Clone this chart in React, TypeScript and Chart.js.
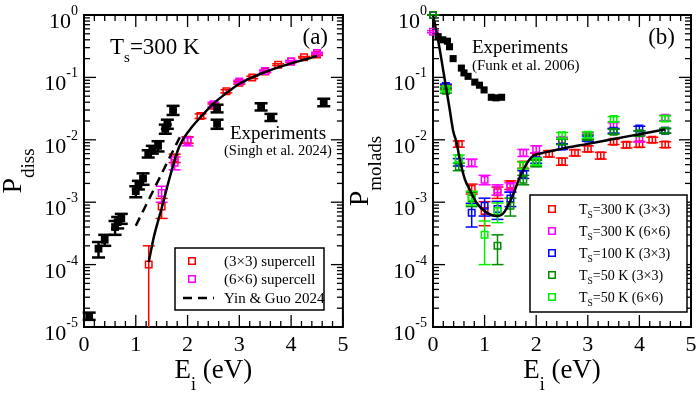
import React, { useEffect, useRef } from 'react';
import { Chart, registerables } from 'chart.js';
Chart.register(...registerables);

const FONT = '"Liberation Serif", "Times New Roman", Times, serif';

// ---------------- Panel (a): dissociation probability ----------------
const dissExpE = [0.10, 0.28, 0.40, 0.60, 0.65, 0.72, 1.00, 1.05, 1.14, 1.24, 1.32, 1.43, 1.57, 1.61, 1.72, 2.57, 2.57, 3.42, 3.61, 4.63];
const dissExpP = [1.5e-5, 1.8e-4, 2.5e-4, 4.0e-4, 4.8e-4, 5.5e-4, 1.5e-3, 1.9e-3, 2.4e-3, 6.0e-3, 7.0e-3, 8.0e-3, 1.5e-2, 1.8e-2, 3.0e-2, 3.2e-2, 1.8e-2, 3.4e-2, 2.3e-2, 4.0e-2];
const dissExpErr = [2e-6, 5e-5, 5e-5, 1e-4, 1e-4, 1e-4, 3e-4, 3e-4, 5e-4, 8e-4, 1e-3, 1.5e-3, 2.5e-3, 3e-3, 5e-3, 4.5e-3, 3e-3, 4.5e-3, 3e-3, 5.5e-3];

const diss3x3E = [1.25, 1.5, 1.75, 2.0, 2.25, 2.5, 2.75, 3.0, 3.25, 3.5, 3.75, 4.0, 4.25, 4.5];
const diss3x3P = [1.0e-4, 8.5e-4, 5.1e-3, 1.0e-2, 2.4e-2, 3.5e-2, 6.0e-2, 8.2e-2, 1.0e-1, 1.24e-1, 1.6e-1, 1.8e-1, 2.1e-1, 2.32e-1];
const diss3x3Err = [1.0e-4, 3.0e-4, 8e-4, 1.2e-3, 2.0e-3, 2.5e-3, 3.5e-3, 4e-3, 4.5e-3, 5e-3, 5.5e-3, 6e-3, 6e-3, 6.5e-3];

const diss6x6E = [1.5, 1.75, 2.0, 2.5, 3.0, 3.5, 4.0, 4.5];
const diss6x6P = [1.4e-3, 4.3e-3, 9.5e-3, 3.7e-2, 8.6e-2, 1.27e-1, 1.8e-1, 2.45e-1];
const diss6x6Err = [4e-4, 1e-3, 1.5e-3, 3e-3, 4e-3, 5e-3, 6e-3, 7e-3];

const dissFitE = [1.25, 1.35, 1.5, 1.65, 1.84, 2.04, 2.25, 2.5, 2.75, 3.0, 3.25, 3.5, 3.75, 4.0, 4.25, 4.5];
const dissFitP = [1.1e-4, 2.8e-4, 8.0e-4, 2.4e-3, 7.8e-3, 1.44e-2, 2.3e-2, 3.8e-2, 5.6e-2, 7.9e-2, 1.0e-1, 1.22e-1, 1.45e-1, 1.68e-1, 1.92e-1, 2.2e-1];

const yinGuoE = [1.0, 1.85];
const yinGuoP = [4.2e-4, 1.1e-2];

// ---------------- Panel (b): molecular adsorption probability ----------------
const molExpE = [0.10, 0.19, 0.28, 0.32, 0.39, 0.55, 0.60, 0.68, 0.81, 0.90, 0.99, 1.13, 1.22, 1.33];
const molExpP = [0.45, 0.40, 0.38, 0.31, 0.20, 0.141, 0.118, 0.104, 0.084, 0.075, 0.063, 0.048, 0.047, 0.048];

const mol300s3E = [0, 0.25, 0.5, 0.75, 1.0, 1.25, 1.5, 1.75, 2.0, 2.25, 2.5, 2.75, 3.0, 3.25, 3.5, 3.75, 4.0, 4.25, 4.5];
const mol300s3P = [1.0, 0.07, 8.6e-3, 1.65e-3, 7.2e-4, 1.45e-3, 1.9e-3, 4.0e-3, 5.5e-3, 6.0e-3, 4.5e-3, 6.2e-3, 7.2e-3, 5.6e-3, 9.3e-3, 8.3e-3, 8.5e-3, 1.0e-2, 8.4e-3];
const mol300s3Err = [0.01, 5e-3, 1e-3, 3e-4, 3e-4, 3e-4, 3e-4, 5e-4, 6e-4, 7e-4, 6e-4, 7e-4, 8e-4, 7e-4, 9e-4, 9e-4, 9e-4, 1e-3, 9e-4];

const mol300s6E = [0, 0.75, 1.0, 1.25, 1.5, 1.75, 2.0, 2.5, 3.0, 3.5, 4.0, 4.5];
const mol300s6P = [0.54, 4.3e-3, 2.3e-3, 1.6e-3, 1.75e-3, 6.2e-3, 7.1e-3, 9.8e-3, 1.15e-2, 1.7e-2, 1.05e-2, 2.25e-2];
const mol300s6Err = [0.02, 6e-4, 4e-4, 3e-4, 3e-4, 8e-4, 9e-4, 1.2e-3, 1.4e-3, 1.8e-3, 1.3e-3, 2.2e-3];

const mol100s3E = [0, 0.25, 0.5, 0.75, 1.0, 1.25, 1.5, 1.75, 2.0, 2.5, 3.0, 3.5, 4.0, 4.5];
const mol100s3P = [1.0, 0.073, 4.4e-3, 6.8e-4, 8.8e-4, 7.8e-4, 1.15e-3, 2.8e-3, 4.7e-3, 7.8e-3, 1.05e-2, 1.4e-2, 1.52e-2, 1.4e-2];
const mol100s3Err = [0.01, 5e-3, 6e-4, 2.8e-4, 2.8e-4, 2.5e-4, 3e-4, 4e-4, 5e-4, 8e-4, 1e-3, 1.2e-3, 1.3e-3, 1.2e-3];

const mol50s3E = [0, 0.25, 0.5, 0.75, 1.25, 1.5, 1.75, 2.0, 2.5, 3.0, 3.5, 4.0, 4.5];
const mol50s3P = [1.0, 0.061, 3.7e-3, 1.15e-3, 2.0e-4, 8.8e-4, 2.3e-3, 4.2e-3, 9.3e-3, 1.1e-2, 1.35e-2, 1.27e-2, 1.4e-2];
const mol50s3Err = [0.01, 5e-3, 5e-4, 3e-4, 1e-4, 2.8e-4, 4e-4, 5e-4, 9e-4, 1e-3, 1.2e-3, 1.2e-3, 1.2e-3];

const mol50s6E = [0.25, 0.5, 0.75, 1.0, 1.25, 1.75, 2.0, 2.5, 3.0, 3.5, 4.5];
const mol50s6P = [0.066, 5.0e-3, 1.2e-3, 3.0e-4, 7.2e-4, 3.9e-3, 4.5e-3, 1.18e-2, 1.2e-2, 2.15e-2, 2.2e-2];
const mol50s6Err = [5e-3, 7e-4, 3e-4, 2e-4, 2.5e-4, 5e-4, 6e-4, 1.3e-3, 1.4e-3, 2e-3, 2.2e-3];

const molFitE = [0, 0.1, 0.2, 0.32, 0.39, 0.46, 0.52, 0.62, 0.68, 0.85, 1.04, 1.23, 1.36, 1.53, 1.69, 1.85, 1.95, 2.1, 2.5, 3.0, 3.5, 4.0, 4.5];
const molFitP = [1.0, 0.39, 0.127, 0.032, 0.014, 8.8e-3, 4.8e-3, 2.3e-3, 1.8e-3, 9.6e-4, 6.8e-4, 6.0e-4, 6.6e-4, 1.2e-3, 2.6e-3, 4.6e-3, 5.6e-3, 6.1e-3, 7.2e-3, 8.6e-3, 1.03e-2, 1.23e-2, 1.47e-2];

// ---------------- colours ----------------
const RED = '#ff0000';
const MAGENTA = '#ff00ff';
const BLUE = '#0000ff';
const DKGREEN = '#008b00';
const LIME = '#00f000';

// ---------------- helpers ----------------
type Seg = { t: string; s: number; dy?: number };

function segWidth(ctx: CanvasRenderingContext2D, segs: Seg[]) {
  let w = 0;
  for (const g of segs) {
    ctx.font = `${g.s}px ${FONT}`;
    w += ctx.measureText(g.t).width;
  }
  return w;
}

function rich(ctx: CanvasRenderingContext2D, segs: Seg[], x: number, y: number, align: string = 'left', color = '#000') {
  const w = segWidth(ctx, segs);
  let cx = align === 'left' ? x : align === 'center' ? x - w / 2 : x - w;
  ctx.fillStyle = color;
  ctx.textAlign = 'left';
  ctx.textBaseline = 'alphabetic';
  for (const g of segs) {
    ctx.font = `${g.s}px ${FONT}`;
    ctx.fillText(g.t, cx, y + (g.dy || 0));
    cx += ctx.measureText(g.t).width;
  }
}

function seg(ctx: CanvasRenderingContext2D, x1: number, y1: number, x2: number, y2: number) {
  ctx.beginPath();
  ctx.moveTo(x1, y1);
  ctx.lineTo(x2, y2);
  ctx.stroke();
}

function drawAxes(chart: any, yTitle: Seg[], yTitleX: number) {
  const { ctx, chartArea: a } = chart;
  const xs = chart.scales.x;
  const ys = chart.scales.y;
  ctx.save();
  ctx.strokeStyle = '#000';
  ctx.lineWidth = 1.3;
  for (let i = 0; i <= 25; i++) {
    const px = xs.getPixelForValue(i * 0.2);
    const len = i % 5 === 0 ? 12 : 6;
    seg(ctx, px, a.bottom, px, a.bottom - len);
    seg(ctx, px, a.top, px, a.top + len);
  }
  for (let d = -5; d <= 0; d++) {
    for (let m = 1; m <= 9; m++) {
      const v = m * Math.pow(10, d);
      if (v > 1.0001) break;
      const py = ys.getPixelForValue(v);
      const len = m === 1 ? 12 : 6;
      seg(ctx, a.left, py, a.left + len, py);
      seg(ctx, a.right, py, a.right - len, py);
    }
  }
  ctx.lineWidth = 2;
  ctx.strokeRect(a.left, a.top, a.right - a.left, a.bottom - a.top);

  for (let i = 0; i <= 5; i++) {
    rich(ctx, [{ t: String(i), s: 22 }], xs.getPixelForValue(i), a.bottom + 24, 'center');
  }
  for (let d = -5; d <= 0; d++) {
    const py = ys.getPixelForValue(Math.pow(10, d));
    rich(ctx, [{ t: '10', s: 22 }, { t: d === 0 ? '0' : '-' + -d, s: 14, dy: -13 }], a.left - 6, py + 13, 'right');
  }
  rich(ctx, [{ t: 'E', s: 27 }, { t: 'i', s: 18, dy: 12 }, { t: ' (eV)', s: 27 }], (a.left + a.right) / 2, a.bottom + 51, 'center');
  ctx.save();
  ctx.translate(yTitleX, (a.top + a.bottom) / 2);
  ctx.rotate(-Math.PI / 2);
  rich(ctx, yTitle, 0, 0, 'center');
  ctx.restore();
  ctx.restore();
}

function drawErrors(chart: any, index: number) {
  const ds = chart.data.datasets[index];
  if (!ds.errs) return;
  const { ctx, chartArea: a } = chart;
  const xs = chart.scales.x;
  const ys = chart.scales.y;
  ctx.save();
  ctx.beginPath();
  ctx.rect(a.left - 10, a.top - 10, a.right - a.left + 20, a.bottom - a.top + 10);
  ctx.clip();
  ctx.strokeStyle = ds.errColor;
  ctx.lineWidth = ds.errLW;
  ds.data.forEach((p: any, i: number) => {
    const e = ds.errs[i];
    const px = xs.getPixelForValue(p.x);
    const lo = Math.max(p.y - e, 1e-9);
    const pyLo = ys.getPixelForValue(lo);
    const pyHi = ys.getPixelForValue(p.y + e);
    const hw = ds.capW / 2;
    seg(ctx, px, pyLo, px, pyHi);
    seg(ctx, px - hw, pyLo, px + hw, pyLo);
    seg(ctx, px - hw, pyHi, px + hw, pyHi);
  });
  ctx.restore();
}

function openSquare(ctx: CanvasRenderingContext2D, x: number, y: number, color: string) {
  ctx.save();
  ctx.strokeStyle = color;
  ctx.lineWidth = 1.5;
  ctx.strokeRect(x - 3.25, y - 3.25, 6.5, 6.5);
  ctx.restore();
}

function pts(xs: number[], ys: number[]) {
  return xs.map((x, i) => ({ x, y: ys[i] }));
}

function simSet(label: string, xs: number[], ys: number[], errs: number[], color: string, order: number) {
  return {
    label,
    data: pts(xs, ys),
    errs,
    errColor: color,
    errLW: 1.5,
    capW: 12,
    showLine: false,
    pointStyle: 'rect',
    pointRadius: 4.6,
    pointHoverRadius: 4.6,
    pointBorderWidth: 1.5,
    borderWidth: 1.5,
    pointBorderColor: color,
    borderColor: color,
    pointBackgroundColor: 'rgba(0,0,0,0)',
    backgroundColor: 'rgba(0,0,0,0)',
    clip: false,
    order,
  };
}

function lineSet(label: string, xs: number[], ys: number[], dash: number[] | null, order: number) {
  return {
    label,
    data: pts(xs, ys),
    showLine: true,
    borderColor: '#000',
    backgroundColor: '#000',
    borderWidth: 2.5,
    borderDash: dash || [],
    pointRadius: 0,
    pointHoverRadius: 0,
    cubicInterpolationMode: 'monotone',
    fill: false,
    order,
  };
}

function baseOptions(padLeft: number, padRight: number) {
  return {
    responsive: false,
    animation: false,
    devicePixelRatio: 1,
    events: [],
    layout: { padding: { left: padLeft, right: padRight, top: 15, bottom: 66 } },
    scales: {
      x: { type: 'linear', min: 0, max: 5, display: false },
      y: { type: 'logarithmic', min: 1e-5, max: 1, display: false },
    },
    plugins: { legend: { display: false }, tooltip: { enabled: false } },
  };
}

const panelAPlugin = {
  id: 'panelA',
  beforeDatasetsDraw(chart: any) {
    drawAxes(chart, [{ t: 'P', s: 28 }, { t: 'diss', s: 19, dy: 13 }], 21);
  },
  beforeDatasetDraw(chart: any, args: any) {
    drawErrors(chart, args.index);
  },
  afterDraw(chart: any) {
    const ctx = chart.ctx as CanvasRenderingContext2D;
    ctx.save();
    rich(ctx, [{ t: 'T', s: 23 }, { t: 's', s: 15, dy: 8 }, { t: '=300 K', s: 23 }], 110, 54, 'left');
    rich(ctx, [{ t: '(a)', s: 23 }], 328, 44, 'right');
    rich(ctx, [{ t: 'Experiments', s: 19 }], 230, 139, 'left');
    rich(ctx, [{ t: '(Singh et al. 2024)', s: 14.5 }], 224, 155, 'left');
    // legend
    ctx.fillStyle = '#fff';
    ctx.fillRect(175, 248, 149, 62);
    ctx.strokeStyle = '#000';
    ctx.lineWidth = 1.5;
    ctx.strokeRect(175, 248, 149, 62);
    openSquare(ctx, 192, 261, RED);
    openSquare(ctx, 192, 279, MAGENTA);
    ctx.lineWidth = 2.5;
    ctx.setLineDash([9, 6]);
    seg(ctx, 183, 298, 214, 298);
    ctx.setLineDash([]);
    rich(ctx, [{ t: '(3\u00d73) supercell', s: 15 }], 224, 266, 'left');
    rich(ctx, [{ t: '(6\u00d76) supercell', s: 15 }], 224, 284, 'left');
    rich(ctx, [{ t: 'Yin & Guo 2024', s: 15 }], 224, 303, 'left');
    ctx.restore();
  },
};

const legendB = [
  { c: RED, a: '=300 K (3\u00d73)' },
  { c: MAGENTA, a: '=300 K (6\u00d76)' },
  { c: BLUE, a: '=100 K (3\u00d73)' },
  { c: DKGREEN, a: '=50 K (3\u00d73)' },
  { c: LIME, a: '=50 K (6\u00d76)' },
];

const panelBPlugin = {
  id: 'panelB',
  beforeDatasetsDraw(chart: any) {
    drawAxes(chart, [{ t: 'P', s: 28 }, { t: 'molads', s: 19, dy: 13 }], 19);
  },
  beforeDatasetDraw(chart: any, args: any) {
    drawErrors(chart, args.index);
  },
  afterDraw(chart: any) {
    const ctx = chart.ctx as CanvasRenderingContext2D;
    ctx.save();
    rich(ctx, [{ t: '(b)', s: 23 }], 326, 44, 'right');
    rich(ctx, [{ t: 'Experiments', s: 19 }], 123, 53, 'left');
    rich(ctx, [{ t: '(Funk et al. 2006)', s: 15 }], 123, 70, 'left');
    ctx.fillStyle = '#fff';
    ctx.fillRect(181, 195, 157, 117);
    ctx.strokeStyle = '#000';
    ctx.lineWidth = 1.5;
    ctx.strokeRect(181, 195, 157, 117);
    legendB.forEach((it, i) => {
      const y = 209 + i * 22;
      openSquare(ctx, 203, y, it.c);
      rich(ctx, [{ t: 'T', s: 14 }, { t: 'S', s: 9.5, dy: 4 }, { t: it.a, s: 14 }], 230, y + 5, 'left');
    });
    ctx.restore();
  },
};

function configA(): any {
  const exp: any = simSet('Experiments', dissExpE, dissExpP, dissExpErr, '#000', 1);
  exp.capW = 13;
  exp.errLW = 2.5;
  exp.pointRadius = 5.5;
  exp.pointHoverRadius = 5.5;
  exp.pointBackgroundColor = '#000';
  exp.backgroundColor = '#000';
  exp.pointBorderWidth = 0;
  exp.borderWidth = 0;
  return {
    type: 'scatter',
    data: {
      datasets: [
        lineSet('fit', dissFitE, dissFitP, null, 0),
        lineSet('Yin & Guo 2024', yinGuoE, yinGuoP, [9, 6], 0),
        exp,
        simSet('(6x6) supercell', diss6x6E, diss6x6P, diss6x6Err, MAGENTA, 2),
        simSet('(3x3) supercell', diss3x3E, diss3x3P, diss3x3Err, RED, 3),
      ],
    },
    options: baseOptions(84, 6),
    plugins: [panelAPlugin],
  };
}

function configB(): any {
  return {
    type: 'scatter',
    data: {
      datasets: [
        lineSet('fit', molFitE, molFitP, null, 0),
        {
          label: 'Experiments',
          data: pts(molExpE, molExpP),
          showLine: false,
          pointStyle: 'rect',
          pointRadius: 5,
          pointHoverRadius: 5,
          pointBackgroundColor: '#000',
          backgroundColor: '#000',
          pointBorderWidth: 0,
          borderWidth: 0,
          clip: false,
          order: 1,
        },
        simSet('Ts=50 K (6x6)', mol50s6E, mol50s6P, mol50s6Err, LIME, 2),
        simSet('Ts=50 K (3x3)', mol50s3E, mol50s3P, mol50s3Err, DKGREEN, 3),
        simSet('Ts=100 K (3x3)', mol100s3E, mol100s3P, mol100s3Err, BLUE, 4),
        simSet('Ts=300 K (6x6)', mol300s6E, mol300s6P, mol300s6Err, MAGENTA, 5),
        simSet('Ts=300 K (3x3)', mol300s3E, mol300s3P, mol300s3Err, RED, 6),
      ],
    },
    options: baseOptions(84, 7),
    plugins: [panelBPlugin],
  };
}

export default function App() {
  const refA = useRef<HTMLCanvasElement>(null);
  const refB = useRef<HTMLCanvasElement>(null);
  useEffect(() => {
    const ca = new Chart(refA.current as HTMLCanvasElement, configA());
    const cb = new Chart(refB.current as HTMLCanvasElement, configB());
    return () => {
      ca.destroy();
      cb.destroy();
    };
  }, []);
  return (
    <div style={{ position: 'fixed', left: 0, top: 0, width: 698, height: 393, background: '#fff' }}>
      <canvas ref={refA} width={349} height={393} style={{ position: 'absolute', left: 0, top: 0, width: 349, height: 393 }} />
      <canvas ref={refB} width={349} height={393} style={{ position: 'absolute', left: 349, top: 0, width: 349, height: 393 }} />
    </div>
  );
}
